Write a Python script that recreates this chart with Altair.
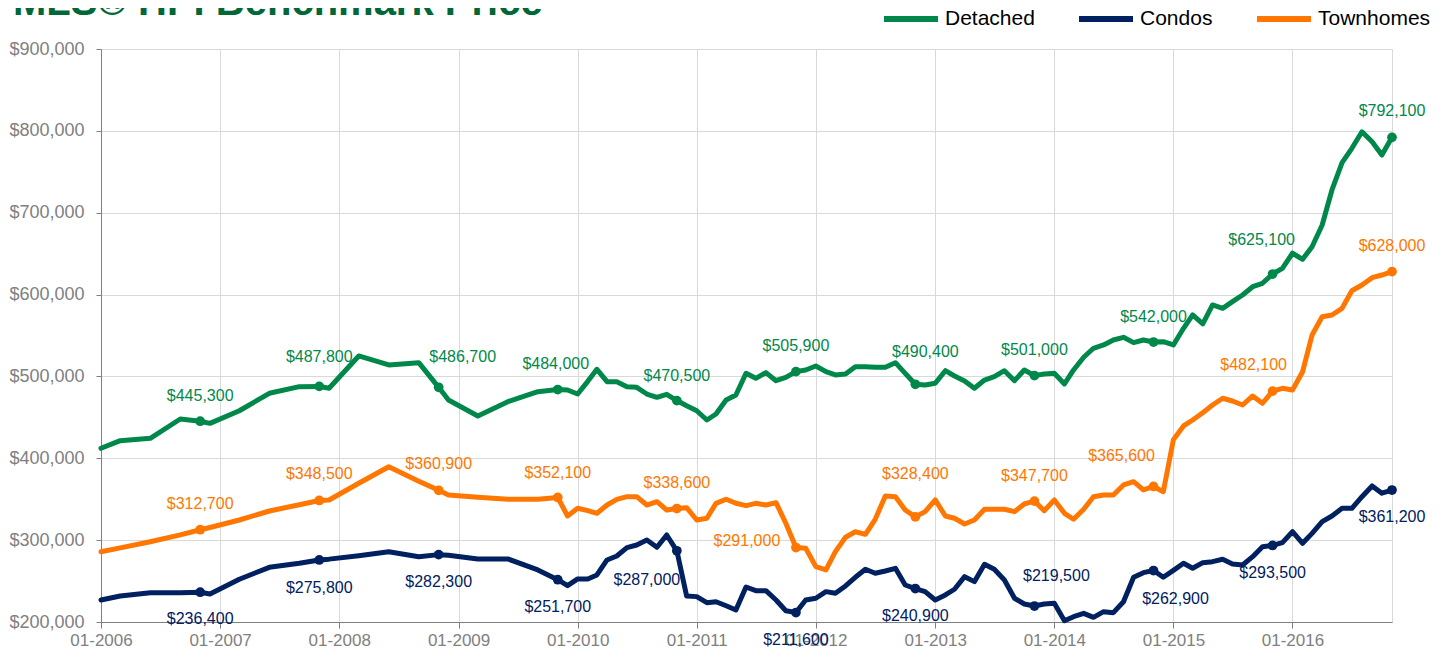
import altair as alt
import pandas as pd

title_text = "MLS® HPI Benchmark Price"
series_names = ["Detached", "Condos", "Townhomes"]
series_colors = ["#00884A", "#002060", "#FF7700"]

early_dates = ["2006-01-01", "2006-03-01", "2006-06-01", "2006-09-01", "2006-11-01",
               "2006-12-01", "2007-03-01", "2007-06-01", "2007-09-01", "2007-11-01",
               "2007-12-01", "2008-03-01", "2008-06-01", "2008-09-01", "2008-11-01",
               "2008-12-01", "2009-03-01", "2009-06-01", "2009-09-01"]
monthly_dates = [f"{2006 + m // 12}-{m % 12 + 1:02d}-01" for m in range(46, 131)]
dates = early_dates + monthly_dates

detached = [412200, 421500, 424400, 448000, 445300, 442700, 458100, 479400, 487500, 487800,
            485500, 525000, 514000, 516800, 486700, 471200, 451700, 469100, 481400,
            484000, 483400, 478500, 494000, 508700, 493600, 493600, 487500, 486700, 478500,
            474500, 478200, 470500, 464200, 458100, 446800, 454100, 471200, 477300, 503800,
            497700, 504600, 494800, 498900, 505900, 507900, 512700, 505800, 501800, 503000,
            511900, 511900, 511100, 511100, 516800, 503800, 490400, 489500, 491600, 507000,
            500500, 494500, 485500, 495600, 499700, 507000, 494800, 507900, 501000, 503000,
            503800, 490800, 507900, 523400, 534400, 538400, 544500, 547800, 541300, 544500,
            542000, 542400, 538400, 558800, 575100, 564100, 587300, 583200, 591300, 599500,
            609600, 613800, 625100, 632100, 650500, 643100, 658500, 685000, 727800, 761100,
            778700, 798900, 786700, 770500, 792100]

condos = [226900, 231800, 235800, 235800, 236400, 234200, 252200, 266800, 271700, 275800,
          276800, 281000, 285900, 279800, 282300, 281500, 277000, 277000, 263600,
          251700, 244400, 252600, 252600, 257500, 275800, 280600, 290800, 294100, 300200,
          291300, 306300, 287000, 231800, 231000, 223600, 224800, 219900, 214700, 242800,
          238300, 238300, 226900, 213800, 211600, 226900, 229000, 237100, 235100, 244000,
          254600, 264400, 259500, 262300, 265600, 245200, 240900, 237100, 226900, 233000,
          240000, 255400, 249300, 270500, 264400, 251300, 229000, 222000, 219500, 222000,
          222800, 201600, 206500, 210600, 205700, 212600, 211400, 224800, 254600, 260300,
          262900, 254600, 263000, 271700, 265600, 272500, 273700, 276600, 270900, 269700,
          279800, 292000, 293500, 296900, 310300, 296100, 308300, 322600, 329500, 338900,
          338900, 353100, 366200, 357300, 361200]

townhomes = [285900, 290500, 298100, 306500, 312700, 315500, 324600, 335600, 343300, 348500,
             349100, 369500, 389700, 372000, 360900, 355200, 352500, 349900, 349900,
             352100, 329500, 338900, 336000, 332800, 342900, 349900, 353100, 353100, 342900,
             347000, 336800, 338600, 339700, 324600, 326700, 345000, 349900, 345000, 342100,
             345000, 342900, 345800, 320600, 291000, 290100, 267600, 263600, 285900, 303500,
             310300, 307100, 325500, 353900, 353100, 336800, 328400, 334800, 349100, 329500,
             326700, 319700, 324600, 337700, 337700, 337700, 334800, 344200, 347700, 336000,
             349100, 332800, 325500, 337700, 353100, 355200, 355200, 367400, 371400, 361300,
             365600, 359200, 422800, 439500, 446800, 455700, 465100, 473300, 470000, 465100,
             476100, 467200, 482100, 485500, 483400, 505800, 550600, 573000, 575000, 583200,
             604700, 611700, 620600, 623900, 628000]

label_years = list(range(2006, 2017))

rows = []
for name, vals in zip(series_names, [detached, condos, townhomes]):
    for d, v in zip(dates, vals):
        rows.append({"series": name, "date": d, "value": v})
df = pd.DataFrame(rows)

color_of = dict(zip(series_names, series_colors))

# label offsets (dx, dy) in pixels -- styling
offsets = {
    "Detached": {2006: (0, -25), 2007: (0, -29), 2008: (24, -30), 2009: (-2, -26), 2010: (0, -25),
                 2011: (0, -26), 2012: (10, -32), 2013: (0, -26), 2014: (0, -25), 2015: (-11, -34),
                 2016: (0, -26)},
    "Townhomes": {2006: (0, -26), 2007: (0, -26), 2008: (0, -26), 2009: (0, -24), 2010: (0, -26),
                  2011: (-49, -7), 2012: (0, -43), 2013: (0, -25), 2014: (-32, -30), 2015: (-19, -26),
                  2016: (0, -26)},
    "Condos": {2006: (0, 27), 2007: (0, 28), 2008: (0, 27), 2009: (0, 27), 2010: (-30, 29),
               2011: (0, 27), 2012: (0, 27), 2013: (22, -30), 2014: (22, 28), 2015: (0, 28),
               2016: (0, 27)},
}

FONT = "Liberation Sans"

x_enc = alt.X(
    "date:T",
    scale=alt.Scale(type="utc", nice=False,
                    domain=[alt.DateTime(year=2006, month=1, date=1, utc=True),
                            alt.DateTime(year=2016, month=11, date=1, utc=True)]),
    axis=alt.Axis(values=[alt.DateTime(year=y, month=1, date=1, utc=True) for y in range(2006, 2017)],
                  labelExpr="utcFormat(datum.value, '%m-%Y')", title=None, labelFlush=False,
                  labelFontSize=17, labelPadding=4, tickSize=6),
)
y_enc = alt.Y(
    "value:Q",
    scale=alt.Scale(domain=[200000, 900000], nice=False, zero=False),
    axis=alt.Axis(values=list(range(200000, 900001, 100000)), format="$,.0f", title=None,
                  labelFontSize=18, labelPadding=12, tickSize=5),
)

lines = alt.Chart(df).mark_line(strokeWidth=5, strokeJoin="round", strokeCap="round").encode(
    x=x_enc, y=y_enc,
    color=alt.Color("series:N",
                    scale=alt.Scale(domain=series_names, range=series_colors),
                    legend=alt.Legend(orient="none", legendX=780, legendY=-60, direction="horizontal",
                                      title=None, symbolType="stroke", symbolSize=2916,
                                      symbolStrokeWidth=6, labelFontSize=21, labelFont=FONT,
                                      labelColor="#000000", columnPadding=32, labelOffset=4)),
    detail="series:N",
)

layers = [lines]
for name in series_names:
    sub = df[(df["series"] == name) & (df["date"].str[5:7] == "11")]
    layers.append(
        alt.Chart(sub).mark_circle(size=95, opacity=1, color=color_of[name]).encode(x=x_enc, y=y_enc)
    )
    for yr in label_years:
        dx, dy = offsets[name][yr]
        one = sub[sub["date"] == f"{yr}-11-01"]
        layers.append(
            alt.Chart(one).mark_text(font=FONT, fontSize=16, align="center", baseline="middle",
                                     dx=dx, dy=dy, color=color_of[name]).encode(
                x=x_enc, y=y_enc, text=alt.Text("value:Q", format="$,.0f"))
        )

title_layer = alt.Chart(pd.DataFrame({"t": [title_text]})).mark_text(
    align="left", baseline="alphabetic", fontSize=40, fontWeight="bold", font=FONT, color="#006837"
).encode(text="t:N", x=alt.value(-88), y=alt.value(-34))
layers.append(title_layer)

chart = alt.layer(*layers).properties(
    width=1291, height=573,
    autosize=alt.AutoSizeParams(type="none"),
    padding={"left": 93, "top": 41, "right": 47, "bottom": 28},
).configure_view(stroke="#d9d9d9").configure_axis(
    labelFont=FONT, labelColor="#808080", domainColor="#808080", tickColor="#808080",
    gridColor="#d9d9d9", gridWidth=1,
)

chart.save("out.html", embed_options={"renderer": "svg", "actions": False})
